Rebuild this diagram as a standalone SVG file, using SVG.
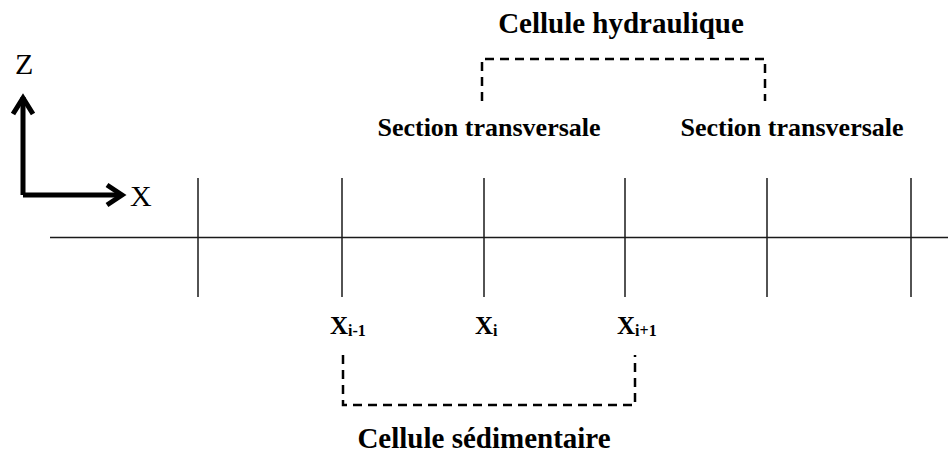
<svg xmlns="http://www.w3.org/2000/svg" width="948" height="453" viewBox="0 0 948 453">
<style>
.t{font-family:"Liberation Serif","Tinos","Times New Roman",serif;font-weight:bold;fill:#000}
.ax{font-family:"Liberation Serif","Tinos","Times New Roman",serif;fill:#000}
.ln{stroke:#1a1a1a;stroke-width:1.5;fill:none}
.dash{stroke:#000;stroke-width:2.5;fill:none;stroke-dasharray:9 6}
.arr{stroke:#000;stroke-width:5;fill:none;stroke-linejoin:miter;stroke-linecap:butt}
</style>
<rect width="948" height="453" fill="#fff"/>
<g id="axes">
<path class="arr" d="M23,195 V97 M23,195 H121"/>
<polyline class="arr" points="13,114 23,98 33,114"/>
<polyline class="arr" points="107,185 122,195 107,205"/>
<text class="ax" x="15" y="74" font-size="30">Z</text>
<text class="ax" x="130" y="206" font-size="30">X</text>
</g>
<g id="grid">
<line class="ln" x1="50" y1="237.5" x2="948" y2="237.5"/>
<line class="ln" x1="198" y1="178" x2="198" y2="297"/>
<line class="ln" x1="342" y1="178" x2="342" y2="297"/>
<line class="ln" x1="484" y1="178" x2="484" y2="297"/>
<line class="ln" x1="625" y1="178" x2="625" y2="297"/>
<line class="ln" x1="767" y1="178" x2="767" y2="297"/>
<line class="ln" x1="911" y1="178" x2="911" y2="297"/>
</g>
<g id="connectors">
<path class="dash" d="M482,101 V59 H765 V101"/>
<path class="dash" d="M343,355 V405 H635 V355"/>
</g>
<g id="hydraulique">
<text class="t" x="621" y="33" font-size="29" text-anchor="middle">Cellule hydraulique</text>
</g>
<g id="section1">
<text class="t" x="489" y="136" font-size="26" text-anchor="middle">Section transversale</text>
</g>
<g id="section2">
<text class="t" x="792" y="136" font-size="26" text-anchor="middle">Section transversale</text>
</g>
<g id="xim1">
<text class="t" x="330" y="334" font-size="25">X<tspan font-size="16" dy="2">i-1</tspan></text>
</g>
<g id="xi">
<text class="t" x="475" y="334" font-size="25">X<tspan font-size="16" dy="2">i</tspan></text>
</g>
<g id="xip1">
<text class="t" x="617" y="334" font-size="25">X<tspan font-size="16" dy="2">i+1</tspan></text>
</g>
<g id="sedimentaire">
<text class="t" x="484" y="448" font-size="29" text-anchor="middle">Cellule sédimentaire</text>
</g>
</svg>
